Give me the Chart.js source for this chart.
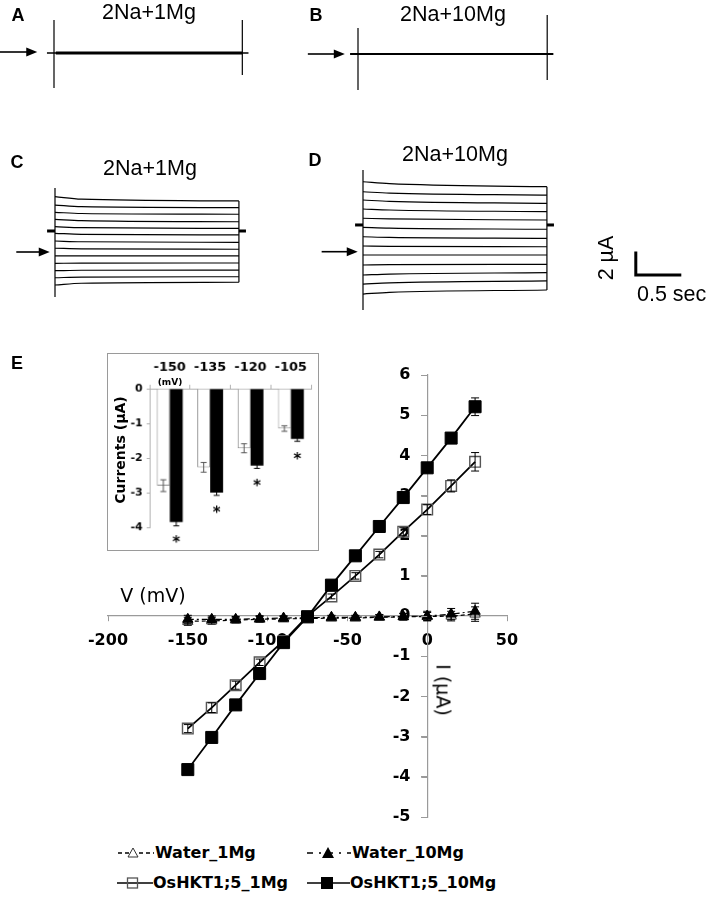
<!DOCTYPE html>
<html>
<head>
<meta charset="utf-8">
<script src="https://cdn.jsdelivr.net/npm/chart.js@4.4.0/dist/chart.umd.min.js"></script>
<style>
body{margin:0;background:#fff;width:707px;height:904px;position:relative;overflow:hidden;font-family:"Liberation Sans",Arial,sans-serif;}
canvas{position:absolute;}
.t{position:absolute;transform:translate(-50%,-50%);white-space:nowrap;color:#000;line-height:1;}
.l{position:absolute;transform:translateY(-50%);white-space:nowrap;color:#000;line-height:1;}
.letter{font-weight:bold;font-size:18px;}
.title{font-size:21.5px;}
.leg{font-family:"DejaVu Sans",sans-serif;font-weight:bold;font-size:16px;}
svg{position:absolute;}
</style>
</head>
<body>
<canvas id="panelA" width="300" height="100" style="left:0;top:0"></canvas>
<canvas id="panelB" width="300" height="100" style="left:300px;top:0"></canvas>
<canvas id="panelC" width="300" height="170" style="left:0;top:150px"></canvas>
<canvas id="panelD" width="407" height="170" style="left:300px;top:150px"></canvas>
<canvas id="ivChart" width="707" height="510" style="left:0;top:330px"></canvas>
<canvas id="inset" width="212" height="198" style="left:107px;top:353px;border:1px solid #9a9a9a;background:#fff"></canvas>

<div class="t letter" style="left:18px;top:15px">A</div>
<div class="t title" style="left:149px;top:13px">2Na+1Mg</div>
<div class="t letter" style="left:316px;top:15px">B</div>
<div class="t title" style="left:453px;top:15px">2Na+10Mg</div>
<div class="t letter" style="left:17px;top:162px">C</div>
<div class="t title" style="left:150px;top:169px">2Na+1Mg</div>
<div class="t letter" style="left:315px;top:160px">D</div>
<div class="t title" style="left:455px;top:155px">2Na+10Mg</div>
<div class="t title" style="left:607px;top:258px;transform:translate(-50%,-50%) rotate(-90deg)">2 µA</div>
<div class="l title" style="left:637px;top:295px">0.5 sec</div>
<div class="t letter" style="left:17px;top:363px">E</div>
<div class="t" style="left:153px;top:595px;font-family:'DejaVu Sans',sans-serif;font-size:19px">V (mV)</div>
<div class="t" style="left:443px;top:690px;font-family:'DejaVu Sans',sans-serif;font-size:19px;transform:translate(-50%,-50%) rotate(90deg)">I (µA)</div>
<div class="t" style="left:120px;top:450px;font-family:'DejaVu Sans',sans-serif;font-weight:bold;font-size:14px;transform:translate(-50%,-50%) rotate(-90deg)">Currents (µA)</div>
<div class="t" style="left:170px;top:382px;font-family:'DejaVu Sans',sans-serif;font-weight:bold;font-size:9px">(mV)</div>

<svg style="left:118px;top:846px" width="36" height="14">
  <line x1="0" y1="7" x2="36" y2="7" stroke="#000" stroke-width="1.3" stroke-dasharray="4 3"/>
  <polygon points="15,2 20,11 10,11" fill="#fff" stroke="#333" stroke-width="1"/>
</svg>
<div class="l leg" style="left:155px;top:853px">Water_1Mg</div>
<svg style="left:307px;top:846px" width="44" height="14">
  <line x1="0" y1="7" x2="44" y2="7" stroke="#000" stroke-width="1.3" stroke-dasharray="6 6 2 6"/>
  <polygon points="21,1 27,12 15,12" fill="#000"/>
</svg>
<div class="l leg" style="left:352px;top:853px">Water_10Mg</div>
<svg style="left:117px;top:876px" width="36" height="14">
  <line x1="0" y1="7" x2="36" y2="7" stroke="#000" stroke-width="1.6"/>
  <rect x="10.5" y="2" width="10" height="10" fill="none" stroke="#555" stroke-width="1.3"/>
</svg>
<div class="l leg" style="left:153px;top:883px">OsHKT1;5_1Mg</div>
<svg style="left:307px;top:876px" width="43" height="14">
  <line x1="0" y1="7" x2="43" y2="7" stroke="#000" stroke-width="1.6"/>
  <rect x="14" y="1" width="12" height="12" fill="#000"/>
</svg>
<div class="l leg" style="left:350px;top:883px">OsHKT1;5_10Mg</div>

<script>
// ---- panels A-D: current traces (µA) against time (s) ----
const pxPerSec = 88;   // 0.5 sec = 44 px
const pxPerUA = 11;    // 2 µA = 22 px

const pulseA = 2.14, pulseB = 2.15, pulseC = 2.09, pulseD = 2.09;
const kneeTime = 0.3;

const aLevel = -0.09;
const aOnSpike = [2.91, -3.27];
const aOffSpike = [2.91, -2.09];

const bLevel = 0;
const bOnSpike = [2.36, -3.27];
const bOffSpike = [3.55, -2.36];

const cStart = [5.03, 4.27, 3.61, 2.97, 2.30, 1.70, 1.00, 0.34, -0.36, -1.03, -1.70, -2.34, -3.00];
const cKnee  = [4.80, 4.12, 3.50, 2.85, 2.21, 1.61, 0.93, 0.29, -0.36, -1.01, -1.66, -2.28, -2.84];
const cEnd   = [4.64, 4.03, 3.43, 2.75, 2.15, 1.55, 0.88, 0.25, -0.36, -1.00, -1.64, -2.25, -2.75];
const cOnSpike = [5.82, -4.09];
const cHold = 1.91;

const dStart = [6.36, 5.45, 4.70, 3.88, 3.04, 2.22, 1.36, 0.52, -0.30, -1.21, -2.12, -2.94, -3.85];
const dKnee  = [6.18, 5.33, 4.58, 3.79, 2.98, 2.15, 1.30, 0.49, -0.30, -1.18, -2.03, -2.83, -3.70];
const dEnd   = [5.91, 5.15, 4.40, 3.64, 2.88, 2.04, 1.22, 0.45, -0.30, -1.15, -1.91, -2.66, -3.48];
const dOnSpike = [7.43, -5.30];
const dHold = 2.43;

// ---- panel E: I-V curves ----
const voltages = [-150, -135, -120, -105, -90, -75, -60, -45, -30, -15, 0, 15, 30];
const hkt10 = [-3.82, -3.02, -2.21, -1.43, -0.66, -0.02, 0.77, 1.50, 2.23, 2.95, 3.69, 4.43, 5.21];
const hkt1  = [-2.80, -2.28, -1.72, -1.15, -0.62, 0.00, 0.49, 1.00, 1.53, 2.10, 2.65, 3.24, 3.84];
const water10 = [-0.08, -0.08, -0.08, -0.06, -0.05, -0.04, -0.03, -0.03, -0.02, -0.01, 0.00, 0.05, 0.12];
const water1  = [-0.13, -0.12, -0.10, -0.08, -0.07, -0.06, -0.05, -0.05, -0.03, -0.02, -0.01, 0.00, 0.05];
const errHkt10 = [0.10, 0.10, 0.08, 0.08, 0.06, 0.05, 0.06, 0.06, 0.08, 0.10, 0.10, 0.12, 0.22];
const errHkt1  = [0.10, 0.12, 0.10, 0.08, 0.06, 0.05, 0.06, 0.08, 0.08, 0.10, 0.12, 0.15, 0.23];
const errWater10 = [0.10, 0.08, 0.07, 0.07, 0.06, 0.05, 0.05, 0.05, 0.06, 0.08, 0.12, 0.14, 0.20];
const errWater1  = [0.10, 0.08, 0.07, 0.07, 0.06, 0.05, 0.05, 0.05, 0.06, 0.08, 0.10, 0.12, 0.18];
const xTicks = [-200, -150, -100, -50, 0, 50];
const yTicks = [-5, -4, -3, -2, -1, 0, 1, 2, 3, 4, 5, 6];

// inset bars
const insetLabels = ['-150', '-135', '-120', '-105'];
const inset1 = [-2.80, -2.27, -1.72, -1.15];
const inset10 = [-3.85, -3.00, -2.22, -1.45];
const insetErr1 = [0.17, 0.14, 0.13, 0.08];
const insetErr10 = [0.11, 0.08, 0.08, 0.07];

// ---------- plugins ----------
const arrowPlugin = {
  id: 'arrow',
  afterDraw(chart, args, o) {
    if (o.tip === undefined) return;
    const ctx = chart.ctx, x = chart.scales.x, y = chart.scales.y;
    const yp = y.getPixelForValue(0);
    const x1 = x.getPixelForValue(o.tail), x2 = x.getPixelForValue(o.tip);
    ctx.save();
    ctx.strokeStyle = '#000'; ctx.fillStyle = '#000'; ctx.lineWidth = 1.6;
    ctx.beginPath(); ctx.moveTo(x1, yp); ctx.lineTo(x2 - 8, yp); ctx.stroke();
    ctx.beginPath(); ctx.moveTo(x2, yp); ctx.lineTo(x2 - 11, yp - 4.5); ctx.lineTo(x2 - 11, yp + 4.5); ctx.closePath(); ctx.fill();
    ctx.restore();
  }
};

const scaleBarPlugin = {
  id: 'scaleBar',
  afterDraw(chart, args, o) {
    if (o.t === undefined) return;
    const ctx = chart.ctx, x = chart.scales.x, y = chart.scales.y;
    ctx.save();
    ctx.strokeStyle = '#000'; ctx.lineWidth = 3; ctx.lineCap = 'square';
    ctx.beginPath();
    ctx.moveTo(x.getPixelForValue(o.t), y.getPixelForValue(o.i + o.di));
    ctx.lineTo(x.getPixelForValue(o.t), y.getPixelForValue(o.i));
    ctx.lineTo(x.getPixelForValue(o.t + o.dt), y.getPixelForValue(o.i));
    ctx.stroke();
    ctx.restore();
  }
};

const errorBars = {
  id: 'errorBars',
  afterDatasetsDraw(chart, args, o) {
    const ctx = chart.ctx, y = chart.scales.y;
    const cap = o.cap || 4;
    chart.data.datasets.forEach((ds, i) => {
      if (!ds.errors) return;
      const meta = chart.getDatasetMeta(i);
      meta.data.forEach((el, j) => {
        const d = ds.data[j];
        const v = typeof d === 'object' ? d.y : d;
        const e = ds.errors[j];
        const top = y.getPixelForValue(v + e), bot = y.getPixelForValue(v - e);
        ctx.save();
        ctx.strokeStyle = ds.errorColor || '#000'; ctx.lineWidth = 1;
        ctx.beginPath();
        ctx.moveTo(el.x, top); ctx.lineTo(el.x, bot);
        ctx.moveTo(el.x - cap, top); ctx.lineTo(el.x + cap, top);
        ctx.moveTo(el.x - cap, bot); ctx.lineTo(el.x + cap, bot);
        ctx.stroke();
        ctx.restore();
      });
    });
  }
};

// small outward tick marks on the y axis of the I-V plot
const yAxisTicks = {
  id: 'yAxisTicks',
  afterDraw(chart) {
    const ctx = chart.ctx, x = chart.scales.x, y = chart.scales.y;
    const xp = x.getPixelForValue(0);
    ctx.save();
    ctx.strokeStyle = '#9a9a9a'; ctx.lineWidth = 1;
    ctx.beginPath();
    yTicks.forEach(v => {
      const yp = Math.round(y.getPixelForValue(v)) + 0.5;
      ctx.moveTo(xp - 6, yp); ctx.lineTo(xp, yp);
    });
    ctx.stroke();
    ctx.restore();
  }
};

const stars = {
  id: 'stars',
  afterDatasetsDraw(chart) {
    const ctx = chart.ctx;
    const meta = chart.getDatasetMeta(1);
    ctx.save();
    ctx.fillStyle = '#000';
    ctx.font = 'bold 15px "DejaVu Sans"';
    ctx.textAlign = 'center'; ctx.textBaseline = 'middle';
    meta.data.forEach(el => ctx.fillText('*', el.x, el.y + 21));
    ctx.restore();
  }
};

// ---------- trace panels ----------
function pts(xs, ys) { return xs.map((x, i) => ({x: x, y: ys[i]})); }

function traceChart(id, t0px, zeroPx, lines, extra) {
  const cv = document.getElementById(id);
  const w = cv.width, h = cv.height;
  return new Chart(cv, {
    type: 'line',
    data: {
      datasets: lines.map(l => ({
        data: l.pts,
        borderColor: '#000',
        borderWidth: l.w || 1.2,
        pointRadius: 0,
        fill: false,
        tension: 0,
        cubicInterpolationMode: l.smooth ? 'monotone' : 'default'
      }))
    },
    options: {
      responsive: false,
      animation: false,
      events: [],
      layout: {padding: 0},
      plugins: {
        legend: {display: false},
        tooltip: {enabled: false},
        arrow: extra.arrow || {},
        scaleBar: extra.scaleBar || {}
      },
      scales: {
        x: {type: 'linear', display: false, min: -t0px / pxPerSec, max: (w - t0px) / pxPerSec},
        y: {type: 'linear', display: false, min: -(h - zeroPx) / pxPerUA, max: zeroPx / pxPerUA}
      }
    },
    plugins: [arrowPlugin, scaleBarPlugin]
  });
}

function familyLines(start, knee, end, pulse, onSpike, hold) {
  const lines = start.map((s, i) => ({pts: pts([0, kneeTime, pulse], [s, knee[i], end[i]]), smooth: true}));
  lines.push({pts: pts([0, 0], onSpike)});
  lines.push({pts: pts([pulse, pulse], [Math.max(...end), Math.min(...end)])});
  lines.push({pts: pts([-0.09, 0], [hold, hold]), w: 3});
  lines.push({pts: pts([pulse, pulse + 0.08], [hold, hold]), w: 3});
  return lines;
}

traceChart('panelA', 54, 52, [
  {pts: pts([-0.08, pulseA + 0.07], [aLevel, aLevel]), w: 1.3},
  {pts: pts([0.02, pulseA], [aLevel, aLevel]), w: 3},
  {pts: pts([0, 0], aOnSpike)},
  {pts: pts([pulseA, pulseA], aOffSpike)}
], {arrow: {tail: -0.62, tip: -0.19}});

traceChart('panelB', 58, 54, [
  {pts: pts([-0.09, pulseB + 0.07], [bLevel, bLevel]), w: 2},
  {pts: pts([0, 0], bOnSpike)},
  {pts: pts([pulseB, pulseB], bOffSpike)}
], {arrow: {tail: -0.57, tip: -0.15}});

traceChart('panelC', 55, 102, familyLines(cStart, cKnee, cEnd, pulseC, cOnSpike, cHold),
  {arrow: {tail: -0.44, tip: -0.06}});

traceChart('panelD', 63, 101.7, familyLines(dStart, dKnee, dEnd, pulseD, dOnSpike, dHold),
  {arrow: {tail: -0.47, tip: -0.06}, scaleBar: {t: 3.10, i: -2.12, dt: 0.5, di: 2}});

// ---------- I-V chart ----------
const tickFont = {family: 'DejaVu Sans', size: 16, weight: 'bold'};
const axisGrey = '#9a9a9a';

new Chart(document.getElementById('ivChart'), {
  type: 'line',
  data: {
    datasets: [
      {label: 'OsHKT1;5_10Mg', data: pts(voltages, hkt10), errors: errHkt10,
       borderColor: '#000', borderWidth: 1.8, pointStyle: 'rect', pointRadius: 8.5,
       pointBackgroundColor: '#000', pointBorderColor: '#000', pointBorderWidth: 1},
      {label: 'OsHKT1;5_1Mg', data: pts(voltages, hkt1), errors: errHkt1,
       borderColor: '#000', borderWidth: 1.8, pointStyle: 'rect', pointRadius: 7.5,
       pointBackgroundColor: 'rgba(255,255,255,0)', pointBorderColor: '#555', pointBorderWidth: 1.4},
      {label: 'Water_10Mg', data: pts(voltages, water10), errors: errWater10,
       borderColor: '#000', borderWidth: 1.2, borderDash: [6, 3, 2, 3], pointStyle: 'triangle', pointRadius: 6,
       pointBackgroundColor: '#000', pointBorderColor: '#000', pointBorderWidth: 1},
      {label: 'Water_1Mg', data: pts(voltages, water1), errors: errWater1,
       borderColor: '#000', borderWidth: 1.2, borderDash: [4, 3], pointStyle: 'triangle', pointRadius: 6,
       pointBackgroundColor: 'rgba(255,255,255,0)', pointBorderColor: '#333', pointBorderWidth: 1}
    ]
  },
  options: {
    responsive: false,
    animation: false,
    events: [],
    layout: {padding: {left: 108, right: 200, top: 45, bottom: 23}},
    plugins: {legend: {display: false}, tooltip: {enabled: false}, errorBars: {cap: 4}},
    scales: {
      x: {
        type: 'linear', position: {y: 0}, min: xTicks[0], max: xTicks[xTicks.length - 1],
        afterBuildTicks: s => { s.ticks = xTicks.map(v => ({value: v})); },
        ticks: {font: tickFont, color: '#000', padding: 10},
        grid: {drawOnChartArea: false, tickLength: 5, color: axisGrey},
        border: {color: axisGrey, width: 1.2}
      },
      y: {
        type: 'linear', position: {x: 0}, min: yTicks[0], max: yTicks[yTicks.length - 1],
        afterBuildTicks: s => { s.ticks = yTicks.map(v => ({value: v})); },
        ticks: {font: tickFont, color: '#000', callback: v => v + '   '},
        grid: {drawOnChartArea: false, tickLength: 6, color: axisGrey},
        border: {color: axisGrey, width: 1.2}
      }
    }
  },
  plugins: [errorBars, yAxisTicks]
});

// ---------- inset bar chart ----------
new Chart(document.getElementById('inset'), {
  type: 'bar',
  data: {
    labels: insetLabels,
    datasets: [
      {data: inset1, errors: insetErr1, backgroundColor: '#fff', borderColor: '#8a8a8a', borderWidth: 1,
       errorColor: '#555', barPercentage: 1, categoryPercentage: 0.64},
      {data: inset10, errors: insetErr10, backgroundColor: '#000', borderColor: '#000', borderWidth: 0,
       barPercentage: 1, categoryPercentage: 0.64}
    ]
  },
  options: {
    responsive: false,
    animation: false,
    events: [],
    layout: {padding: {left: 0, right: 7, top: 0, bottom: 23}},
    plugins: {legend: {display: false}, tooltip: {enabled: false}, errorBars: {cap: 3}},
    scales: {
      x: {
        position: 'top',
        afterFit: s => { s.height = 35; },
        ticks: {font: {family: 'DejaVu Sans', size: 13, weight: 'bold'}, color: '#000', padding: 10},
        grid: {drawOnChartArea: false, tickLength: 4, color: '#b0b0b0'},
        border: {color: '#b0b0b0'}
      },
      y: {
        min: -4, max: 0,
        afterFit: s => { s.width = 42; },
        ticks: {stepSize: 1, font: {family: 'DejaVu Sans', size: 11, weight: 'bold'}, color: '#000', padding: 4},
        grid: {drawOnChartArea: false, tickLength: 3, color: '#b0b0b0'},
        border: {color: '#b0b0b0'}
      }
    }
  },
  plugins: [errorBars, stars]
});
</script>
</body>
</html>
